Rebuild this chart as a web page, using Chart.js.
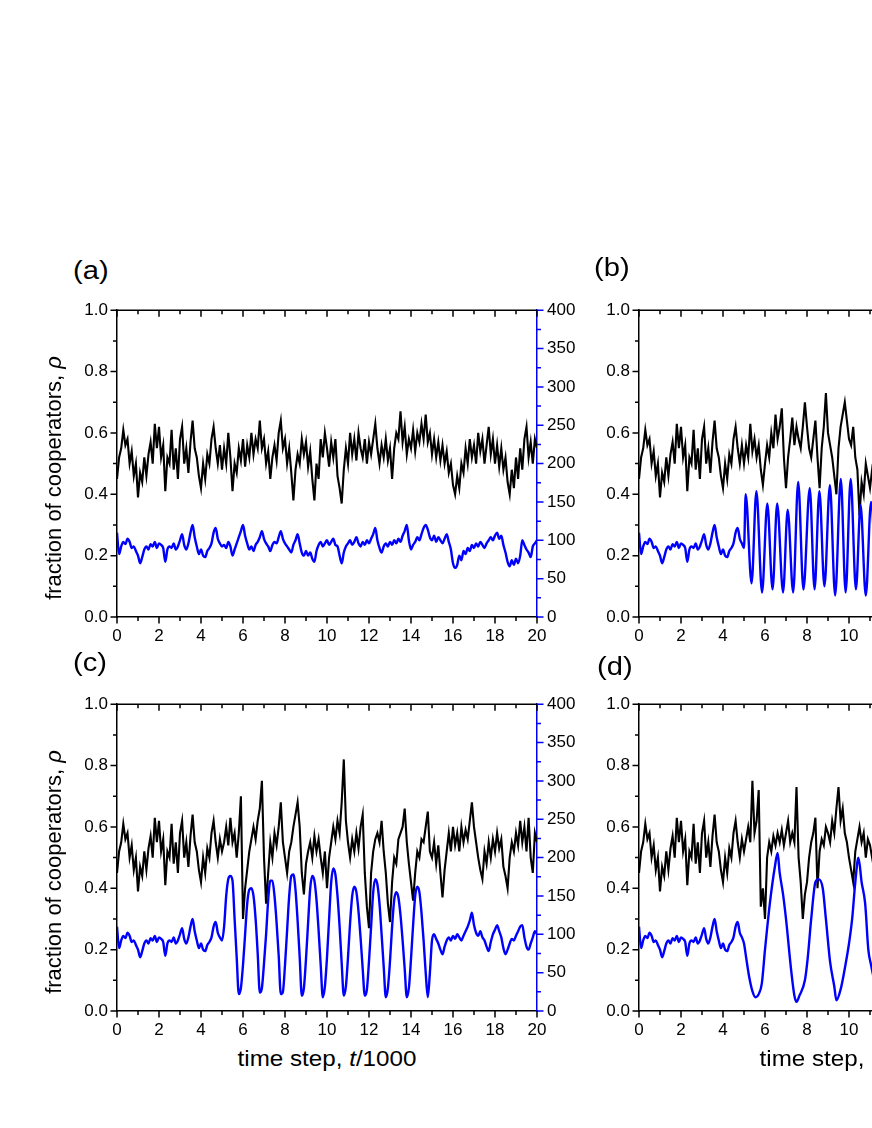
<!DOCTYPE html>
<html lang="en">
<head>
  <meta charset="UTF-8">
  <title>Fraction of cooperators vs time step</title>
  <script src="https://cdn.jsdelivr.net/npm/chart.js"></script>
  <style>
    body {
      margin: 0;
      background: #fff;
      font-family: "Liberation Sans", Arial, sans-serif;
      color: #000;
      overflow: hidden;
    }
    .page {
      position: relative;
      width: 872px;
      height: 1128px;
      overflow: hidden;
    }
    canvas { position: absolute; }
    .tag {
      position: absolute;
      font-size: 26px;
      line-height: 1;
      transform-origin: left center;
      transform: scaleX(1.12);
    }
    .ytitle {
      position: absolute;
      font-size: 22px;
      line-height: 1;
      white-space: nowrap;
      transform: translate(-50%, -50%) rotate(-90deg);
    }
    .xtitle {
      position: absolute;
      font-size: 22px;
      line-height: 1;
      white-space: nowrap;
      transform: translate(-50%, -50%) scaleX(1.1);
    }
  </style>
</head>
<body>
<div class="page">
  <canvas id="panelA" width="540" height="360" style="left:60px; top:290px"></canvas>
  <canvas id="panelB" width="540" height="360" style="left:582px; top:290px"></canvas>
  <canvas id="panelC" width="540" height="360" style="left:60px; top:684px"></canvas>
  <canvas id="panelD" width="540" height="360" style="left:582px; top:684px"></canvas>

  <div class="tag" style="left:73px; top:257px">(a)</div>
  <div class="tag" style="left:594px; top:254px">(b)</div>
  <div class="tag" style="left:73px; top:649px">(c)</div>
  <div class="tag" style="left:597px; top:653px">(d)</div>

  <div class="ytitle" style="left:54px; top:478px">fraction of cooperators, <i>ρ</i></div>
  <div class="ytitle" style="left:54px; top:872px">fraction of cooperators, <i>ρ</i></div>
  <div class="xtitle" style="left:327px; top:1059px">time step, <i>t</i>/1000</div>
  <div class="xtitle" style="left:849px; top:1059px">time step, <i>t</i>/1000</div>
</div>

<script>
  const BLUE = '#0000ff';

  // tick values
  const xMajor = [0, 2, 4, 6, 8, 10, 12, 14, 16, 18, 20];
  const yLeftMajor = [0, 0.2, 0.4, 0.6, 0.8, 1.0];
  const yRightMajor = [0, 50, 100, 150, 200, 250, 300, 350, 400];

  // all four runs share the first 5000 steps (t = 0.0 .. 4.9, every 0.1)
  const blackStart = [
    0.45, 0.52, 0.55, 0.61, 0.56, 0.58, 0.50, 0.54, 0.46, 0.50,
    0.39, 0.47, 0.44, 0.52, 0.46, 0.53, 0.57, 0.50, 0.63, 0.55,
    0.62, 0.52, 0.56, 0.41, 0.52, 0.50, 0.61, 0.48, 0.55, 0.45,
    0.58, 0.62, 0.50, 0.55, 0.47, 0.57, 0.64, 0.55, 0.52, 0.46,
    0.42, 0.50, 0.45, 0.53, 0.50, 0.58, 0.62, 0.55, 0.50, 0.56
  ];
  const blueStart = [
    110, 82, 92, 98, 95, 102, 98, 90, 92, 86,
    80, 70, 78, 88, 92, 88, 95, 92, 98, 90,
    96, 94, 90, 72, 88, 92, 90, 96, 88, 92,
    100, 108, 94, 88, 96, 110, 120, 104, 92, 82,
    88, 80, 78, 86, 90, 96, 110, 116, 102, 96
  ];

  // (a) t = 5.0 .. 20.0, every 0.1
  const blackA = [
    0.48,
    0.55, 0.50, 0.60, 0.52, 0.41, 0.50, 0.47, 0.55, 0.51, 0.58,
    0.49, 0.56, 0.52, 0.60, 0.53, 0.58, 0.55, 0.64, 0.55, 0.58,
    0.50, 0.54, 0.45, 0.52, 0.56, 0.51, 0.60, 0.64, 0.55, 0.58,
    0.50, 0.55, 0.47, 0.38, 0.48, 0.53, 0.50, 0.58, 0.53, 0.57,
    0.49, 0.54, 0.45, 0.38, 0.50, 0.45, 0.58, 0.52, 0.60, 0.55,
    0.49, 0.57, 0.52, 0.58, 0.46, 0.42, 0.37, 0.48, 0.55, 0.50,
    0.60, 0.53, 0.58, 0.51, 0.60, 0.55, 0.52, 0.58, 0.50, 0.57,
    0.53, 0.58, 0.63, 0.55, 0.50, 0.56, 0.52, 0.58, 0.51, 0.55,
    0.45, 0.55, 0.60, 0.58, 0.67, 0.57, 0.62, 0.53, 0.58, 0.55,
    0.61, 0.54, 0.60, 0.57, 0.63, 0.58, 0.66, 0.57, 0.60, 0.53,
    0.58, 0.52, 0.57, 0.51, 0.56, 0.50, 0.54, 0.47, 0.50, 0.43,
    0.40, 0.46, 0.42, 0.50, 0.47, 0.55, 0.50, 0.58, 0.52, 0.56,
    0.50, 0.60, 0.54, 0.58, 0.50, 0.56, 0.62, 0.53, 0.58, 0.50,
    0.56, 0.49, 0.55, 0.48, 0.52, 0.44, 0.40, 0.48, 0.42, 0.52,
    0.45, 0.55, 0.48, 0.58, 0.62, 0.52, 0.57, 0.50, 0.58, 0.55
  ];
  const blueA = [
    92,
    94, 90, 98, 92, 80, 88, 96, 104, 112, 120,
    106, 96, 88, 92, 86, 94, 98, 104, 112, 102,
    96, 92, 86, 94, 98, 96, 104, 112, 102, 96,
    92, 88, 84, 94, 100, 108, 96, 84, 80, 86,
    80, 84, 76, 72, 86, 94, 98, 92, 96, 100,
    94, 98, 102, 94, 92, 80, 70, 84, 92, 96,
    100, 94, 98, 104, 96, 92, 98, 94, 100, 96,
    102, 108, 116, 100, 90, 84, 92, 96, 92, 98,
    94, 100, 96, 102, 98, 106, 112, 120, 100, 88,
    94, 98, 104, 100, 108, 116, 120, 114, 104, 100,
    106, 98, 104, 100, 96, 102, 108, 98, 88, 70,
    64, 68, 80, 74, 86, 82, 90, 86, 94, 90,
    96, 92, 98, 94, 90, 96, 100, 104, 100, 106,
    110, 102, 106, 94, 84, 72, 66, 74, 68, 76,
    70, 80, 100, 94, 88, 84, 78, 92, 96, 100
  ];

  // (c) t = 5.0 .. 20.0, every 0.1
  const blackC = [
    0.52,
    0.55, 0.60, 0.54, 0.63, 0.55, 0.58, 0.50, 0.58, 0.70, 0.30,
    0.40, 0.46, 0.52, 0.56, 0.60, 0.56, 0.62, 0.66, 0.75, 0.50,
    0.35, 0.45, 0.55, 0.50, 0.58, 0.54, 0.60, 0.68, 0.55, 0.50,
    0.45, 0.52, 0.55, 0.60, 0.64, 0.68, 0.60, 0.45, 0.38, 0.48,
    0.52, 0.55, 0.50, 0.57, 0.52, 0.56, 0.50, 0.45, 0.52, 0.40,
    0.50, 0.55, 0.60, 0.56, 0.62, 0.58, 0.68, 0.82, 0.62, 0.55,
    0.50, 0.56, 0.52, 0.58, 0.53, 0.60, 0.64, 0.45, 0.34, 0.27,
    0.45, 0.52, 0.56, 0.58, 0.55, 0.62, 0.52, 0.45, 0.35, 0.29,
    0.42, 0.50, 0.48, 0.56, 0.58, 0.60, 0.66, 0.55, 0.48, 0.42,
    0.36, 0.45, 0.52, 0.50, 0.56, 0.55, 0.60, 0.65, 0.52, 0.50,
    0.55, 0.48, 0.54, 0.45, 0.37, 0.46, 0.52, 0.58, 0.52, 0.60,
    0.54, 0.58, 0.52, 0.60, 0.55, 0.59, 0.56, 0.62, 0.68, 0.60,
    0.55, 0.50, 0.46, 0.43, 0.52, 0.48, 0.55, 0.50, 0.56, 0.52,
    0.58, 0.53, 0.56, 0.47, 0.44, 0.40, 0.50, 0.55, 0.52, 0.58,
    0.54, 0.62, 0.55, 0.60, 0.52, 0.63, 0.50, 0.45, 0.58, 0.55
  ];
  const blueC = [
    92,
    110, 150, 172, 176, 170, 120, 70, 22, 30, 60,
    100, 140, 158, 160, 150, 120, 75, 24, 30, 62,
    100, 145, 170, 170, 150, 115, 72, 22, 25, 60,
    105, 150, 176, 178, 158, 118, 70, 20, 30, 68,
    115, 160, 176, 170, 145, 105, 60, 18, 32, 70,
    120, 168, 186, 178, 150, 110, 62, 20, 32, 70,
    115, 150, 162, 155, 130, 95, 55, 20, 28, 65,
    110, 155, 172, 165, 140, 100, 58, 18, 30, 65,
    110, 145, 155, 148, 125, 92, 55, 18, 30, 68,
    112, 150, 162, 155, 128, 92, 50, 18, 50, 92,
    100, 94, 88, 80, 74, 84, 92, 96, 92, 98,
    94, 100, 96, 92, 98, 104, 110, 118, 128, 112,
    102, 98, 104, 96, 92, 84, 78, 90, 100, 106,
    112, 104, 96, 82, 74, 80, 88, 94, 92, 98,
    104, 110, 112, 96, 84, 80, 88, 96, 104, 100
  ];

  // (b) t = 5.0 .. 11.2, every 0.1 (the rest is cut off by the page)
  const blackB = [
    0.50,
    0.56, 0.52, 0.63, 0.54, 0.58, 0.52, 0.56, 0.48, 0.43, 0.50,
    0.56, 0.52, 0.60, 0.55, 0.66, 0.58, 0.62, 0.68, 0.52, 0.42,
    0.52, 0.58, 0.65, 0.56, 0.62, 0.58, 0.55, 0.62, 0.70, 0.62,
    0.55, 0.52, 0.58, 0.64, 0.52, 0.42, 0.55, 0.62, 0.73, 0.60,
    0.56, 0.52, 0.46, 0.40, 0.55, 0.62, 0.66, 0.70, 0.64, 0.58,
    0.56, 0.62, 0.52, 0.48, 0.33, 0.44, 0.40, 0.50, 0.46, 0.42,
    0.48, 0.45
  ];
  // (b) blue: turning points of the fast oscillation
  const blueBTime = [5.0, 5.08, 5.36, 5.59, 5.86, 6.11, 6.36, 6.58, 6.86, 7.08, 7.34, 7.58, 7.83, 8.13,
                     8.36, 8.59, 8.83, 9.09, 9.34, 9.61, 9.84, 10.08, 10.33, 10.55, 10.8, 11.05, 11.3];
  const blueB = [90, 160, 44, 164, 32, 148, 36, 148, 32, 140, 32, 176, 36, 168,
                 36, 164, 40, 172, 28, 180, 32, 180, 36, 146, 28, 150, 30];

  // (d) t = 5.0 .. 11.2, every 0.1
  const blackD = [
    0.52,
    0.56, 0.60, 0.55, 0.75, 0.58, 0.62, 0.72, 0.34, 0.40, 0.30,
    0.50, 0.55, 0.52, 0.57, 0.54, 0.58, 0.55, 0.59, 0.54, 0.58,
    0.62, 0.55, 0.58, 0.55, 0.73, 0.50, 0.42, 0.30, 0.38, 0.42,
    0.50, 0.55, 0.58, 0.63, 0.40, 0.52, 0.56, 0.54, 0.60, 0.58,
    0.55, 0.62, 0.58, 0.66, 0.73, 0.62, 0.66, 0.58, 0.55, 0.50,
    0.46, 0.42, 0.52, 0.56, 0.60, 0.55, 0.58, 0.50, 0.56, 0.54,
    0.50, 0.55
  ];
  const blueDTime = [5.0, 5.1, 5.25, 5.4, 5.55, 5.7, 5.85, 6.0, 6.23, 6.47, 6.6, 6.7, 6.86, 7.0,
                     7.25, 7.4, 7.5, 7.64, 7.9, 8.03, 8.2, 8.4, 8.55, 8.75, 8.9, 9.1, 9.3, 9.4,
                     9.6, 9.83, 10.0, 10.15, 10.3, 10.45, 10.6, 10.77, 10.92, 11.05, 11.2];
  const blueD = [88, 70, 44, 26, 18, 22, 36, 80, 140, 188, 206, 180, 152, 120,
                 52, 20, 12, 20, 40, 68, 120, 168, 172, 160, 120, 64, 32, 14,
                 28, 60, 88, 120, 168, 200, 168, 140, 80, 60, 40];

  // sampling instants of a run recorded every 100 steps
  function sampleTimes(t0, n) {
    const out = [];
    for (let i = 0; i < n; i++) out.push(Math.round((t0 + i * 0.1) * 10) / 10);
    return out;
  }
  function toPoints(times, values) {
    return values.map((v, i) => ({ x: times[i], y: v }));
  }

  const startTimes = sampleTimes(0, blackStart.length);
  const startBlack = toPoints(startTimes, blackStart);
  const startBlue = toPoints(startTimes, blueStart);

  // frame: top line, inward top ticks, outward minor/major ticks on the other sides
  const frameTicks = {
    id: 'frameTicks',
    afterDraw(chart) {
      const { ctx, chartArea: a, scales } = chart;
      const major = 6.5, minor = 4;
      ctx.save();
      ctx.lineWidth = 1.5;
      ctx.strokeStyle = '#000';
      ctx.beginPath();
      ctx.moveTo(a.left, a.top);
      ctx.lineTo(a.right, a.top);
      xMajor.forEach((v, i) => {
        const px = scales.x.getPixelForValue(v);
        ctx.moveTo(px, a.bottom); ctx.lineTo(px, a.bottom + major);
        ctx.moveTo(px, a.top); ctx.lineTo(px, a.top + major);
        if (i < xMajor.length - 1) {
          const pm = scales.x.getPixelForValue((v + xMajor[i + 1]) / 2);
          ctx.moveTo(pm, a.bottom); ctx.lineTo(pm, a.bottom + minor);
          ctx.moveTo(pm, a.top); ctx.lineTo(pm, a.top + minor);
        }
      });
      yLeftMajor.forEach((v, i) => {
        const py = scales.y.getPixelForValue(v);
        ctx.moveTo(a.left, py); ctx.lineTo(a.left - major, py);
        if (i < yLeftMajor.length - 1) {
          const pm = scales.y.getPixelForValue((v + yLeftMajor[i + 1]) / 2);
          ctx.moveTo(a.left, pm); ctx.lineTo(a.left - minor, pm);
        }
      });
      ctx.stroke();
      ctx.strokeStyle = BLUE;
      ctx.beginPath();
      yRightMajor.forEach((v, i) => {
        const py = scales.y2.getPixelForValue(v);
        ctx.moveTo(a.right, py); ctx.lineTo(a.right + major, py);
        if (i < yRightMajor.length - 1) {
          const pm = scales.y2.getPixelForValue((v + yRightMajor[i + 1]) / 2);
          ctx.moveTo(a.right, pm); ctx.lineTo(a.right + minor, pm);
        }
      });
      ctx.stroke();
      ctx.restore();
    }
  };

  const tickFont = { family: '"Liberation Sans", Arial, sans-serif', size: 17 };

  function makePanel(id, blackPts, bluePts) {
    return new Chart(document.getElementById(id), {
      type: 'line',
      data: {
        datasets: [
          {
            label: 'blue',
            data: bluePts,
            yAxisID: 'y2',
            borderColor: BLUE,
            borderWidth: 2.4,
            cubicInterpolationMode: 'monotone',
            pointRadius: 0,
            fill: false
          },
          {
            label: 'fraction of cooperators',
            data: blackPts,
            yAxisID: 'y',
            borderColor: '#000',
            borderWidth: 2.1,
            borderJoinStyle: 'miter',
            tension: 0,
            pointRadius: 0,
            fill: false
          }
        ]
      },
      options: {
        responsive: false,
        animation: false,
        events: [],
        layout: { padding: { top: 13, left: 0, right: 0, bottom: 0 } },
        plugins: { legend: { display: false }, tooltip: { enabled: false } },
        scales: {
          x: {
            type: 'linear',
            min: 0,
            max: 20,
            afterBuildTicks: s => { s.ticks = xMajor.map(v => ({ value: v })); },
            afterFit: s => { s.height = 33; },
            grid: { display: false, drawTicks: false },
            border: { color: '#000', width: 1.5 },
            ticks: { color: '#000', font: tickFont, padding: 9, maxRotation: 0, autoSkip: false,
                     callback: v => String(v) }
          },
          y: {
            position: 'left',
            min: 0,
            max: 1,
            afterBuildTicks: s => { s.ticks = yLeftMajor.map(v => ({ value: v })); },
            afterFit: s => { s.width = 57; },
            grid: { display: false, drawTicks: false },
            border: { color: '#000', width: 1.5 },
            ticks: { color: '#000', font: tickFont, padding: 9, callback: v => v.toFixed(1) }
          },
          y2: {
            position: 'right',
            min: 0,
            max: 400,
            afterBuildTicks: s => { s.ticks = yRightMajor.map(v => ({ value: v })); },
            afterFit: s => { s.width = 63; },
            grid: { display: false, drawTicks: false },
            border: { color: BLUE, width: 1.5 },
            ticks: { color: '#000', font: tickFont, padding: 10, callback: v => String(v) }
          }
        }
      },
      plugins: [frameTicks]
    });
  }

  makePanel('panelA',
    startBlack.concat(toPoints(sampleTimes(5, blackA.length), blackA)),
    startBlue.concat(toPoints(sampleTimes(5, blueA.length), blueA)));
  makePanel('panelB',
    startBlack.concat(toPoints(sampleTimes(5, blackB.length), blackB)),
    startBlue.concat(toPoints(blueBTime, blueB)));
  makePanel('panelC',
    startBlack.concat(toPoints(sampleTimes(5, blackC.length), blackC)),
    startBlue.concat(toPoints(sampleTimes(5, blueC.length), blueC)));
  makePanel('panelD',
    startBlack.concat(toPoints(sampleTimes(5, blackD.length), blackD)),
    startBlue.concat(toPoints(blueDTime, blueD)));
</script>
</body>
</html>
